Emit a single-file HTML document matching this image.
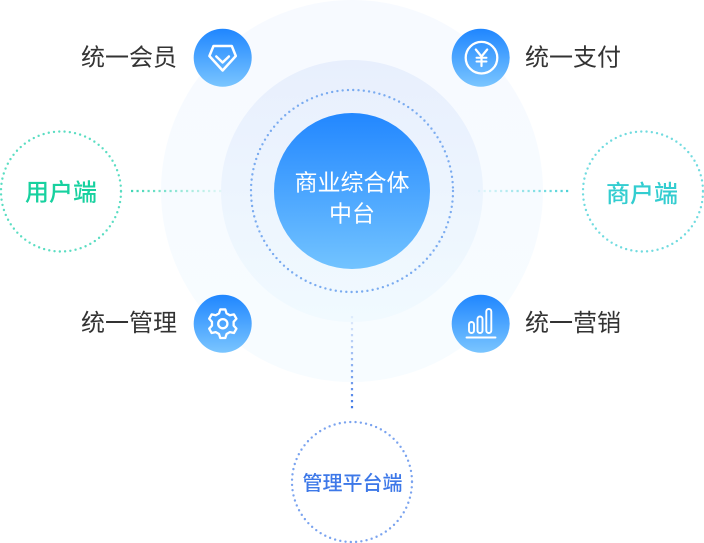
<!DOCTYPE html>
<html>
<head>
<meta charset="utf-8">
<style>
  html, body { margin: 0; padding: 0; background: #ffffff; }
  body { width: 704px; height: 543px; overflow: hidden; }
  svg { display: block; }
  text { font-family: "Liberation Sans", "Noto Sans CJK SC", "WenQuanYi Zen Hei", sans-serif; }
</style>
</head>
<body>
<svg width="704" height="543" viewBox="0 0 704 543" xmlns="http://www.w3.org/2000/svg">
  <defs>
    <linearGradient id="gOuter" x1="0" y1="0" x2="0" y2="1">
      <stop offset="0" stop-color="#f7faff"/>
      <stop offset="1" stop-color="#f7fcff"/>
    </linearGradient>
    <linearGradient id="gMid" x1="0" y1="0" x2="0" y2="1">
      <stop offset="0" stop-color="#e8effd"/>
      <stop offset="1" stop-color="#f1faff"/>
    </linearGradient>
    <linearGradient id="gMain" x1="0" y1="0" x2="0" y2="1">
      <stop offset="0" stop-color="#2287ff"/>
      <stop offset="1" stop-color="#72c3ff"/>
    </linearGradient>
    <linearGradient id="gIcon" x1="0" y1="0" x2="0" y2="1">
      <stop offset="0" stop-color="#1f86ff"/>
      <stop offset="1" stop-color="#7ac5ff"/>
    </linearGradient>
    <linearGradient id="gLeft" gradientUnits="userSpaceOnUse" x1="130" y1="0" x2="224" y2="0">
      <stop offset="0" stop-color="#3fd6b4" stop-opacity="1"/>
      <stop offset="1" stop-color="#3fd6b4" stop-opacity="0.1"/>
    </linearGradient>
    <linearGradient id="gRight" gradientUnits="userSpaceOnUse" x1="572" y1="0" x2="478" y2="0">
      <stop offset="0" stop-color="#45d0d6" stop-opacity="1"/>
      <stop offset="1" stop-color="#45d0d6" stop-opacity="0.1"/>
    </linearGradient>
    <linearGradient id="gDown" gradientUnits="userSpaceOnUse" x1="0" y1="410" x2="0" y2="316">
      <stop offset="0" stop-color="#3f78e6" stop-opacity="1"/>
      <stop offset="1" stop-color="#3f78e6" stop-opacity="0.1"/>
    </linearGradient>
  </defs>

  <!-- background concentric circles -->
  <circle cx="352" cy="191" r="191" fill="url(#gOuter)"/>
  <circle cx="352" cy="191" r="131" fill="url(#gMid)"/>
  <circle cx="352" cy="191" r="101" fill="none" stroke="#7aabf0" stroke-width="2.4" stroke-dasharray="0 5.3" stroke-linecap="round"/>

  <!-- main circle -->
  <circle cx="352" cy="191" r="78" fill="url(#gMain)"/>
  <text x="352" y="190.5" font-size="23" fill="#ffffff" text-anchor="middle">商业综合体</text>
  <text x="352" y="221.5" font-size="23" fill="#ffffff" text-anchor="middle">中台</text>

  <!-- connectors -->
  <line x1="131" y1="191" x2="224" y2="191" stroke="url(#gLeft)" stroke-width="2.2" stroke-dasharray="2.2 3.3"/>
  <line x1="478" y1="191" x2="571" y2="191" stroke="url(#gRight)" stroke-width="2.2" stroke-dasharray="2.2 3.3"/>
  <line x1="352" y1="316" x2="352" y2="410" stroke="url(#gDown)" stroke-width="2.2" stroke-dasharray="2.2 3.8"/>

  <!-- end nodes -->
  <circle cx="61" cy="191.5" r="60" fill="none" stroke="#5addc2" stroke-width="2.4" stroke-dasharray="0 5.3" stroke-linecap="round"/>
  <text x="61" y="200.5" font-size="24" fill="#17d19f" text-anchor="middle" font-weight="500">用户端</text>

  <circle cx="643" cy="191.5" r="60" fill="none" stroke="#70dbdf" stroke-width="2.4" stroke-dasharray="0 5.3" stroke-linecap="round"/>
  <text x="642" y="202" font-size="24" fill="#33cdd0" text-anchor="middle" font-weight="500">商户端</text>

  <circle cx="352" cy="482" r="60" fill="none" stroke="#7aa3ef" stroke-width="2.4" stroke-dasharray="0 5.3" stroke-linecap="round"/>
  <text x="352.5" y="490" font-size="20" fill="#3d78e8" text-anchor="middle" font-weight="500">管理平台端</text>

  <!-- feature icons -->
  <!-- 统一会员 -->
  <circle cx="222.7" cy="57.7" r="29" fill="url(#gIcon)"/>
  <path d="M213.5,46 L231.8,46 L235.8,56 L222.6,70.5 L209.4,56 Z" fill="none" stroke="#ffffff" stroke-width="2.5" stroke-linejoin="round"/>
  <path d="M216.3,56.5 L222.6,62.5 L228.9,56.5" fill="none" stroke="#ffffff" stroke-width="2.5" stroke-linecap="round" stroke-linejoin="round"/>
  <text x="177" y="65.5" font-size="24" fill="#333333" text-anchor="end">统一会员</text>

  <!-- 统一支付 -->
  <circle cx="480.7" cy="57.7" r="29" fill="url(#gIcon)"/>
  <circle cx="481.5" cy="57.7" r="15.8" fill="none" stroke="#ffffff" stroke-width="2.3"/>
  <path d="M475.8,49.5 L481.5,56.5 L487.2,49.5" fill="none" stroke="#ffffff" stroke-width="2.2" stroke-linecap="round" stroke-linejoin="round"/>
  <line x1="481.5" y1="56.5" x2="481.5" y2="66" stroke="#ffffff" stroke-width="2.2" stroke-linecap="round"/>
  <line x1="476.5" y1="57.8" x2="486.5" y2="57.8" stroke="#ffffff" stroke-width="2" stroke-linecap="round"/>
  <line x1="476.5" y1="61.5" x2="486.5" y2="61.5" stroke="#ffffff" stroke-width="2" stroke-linecap="round"/>
  <text x="525" y="65.5" font-size="24" fill="#333333">统一支付</text>

  <!-- 统一管理 -->
  <circle cx="222.7" cy="323.7" r="29" fill="url(#gIcon)"/>
  <g transform="translate(222.8,323.7)">
    <polygon points="-3.76,-10.34 -2.52,-14.28 2.52,-14.28 3.76,-10.34 7.07,-8.43 11.11,-9.32 13.63,-4.96 10.83,-1.91 10.83,1.91 13.63,4.96 11.11,9.32 7.07,8.43 3.76,10.34 2.52,14.28 -2.52,14.28 -3.76,10.34 -7.07,8.43 -11.11,9.32 -13.63,4.96 -10.83,1.91 -10.83,-1.91 -13.63,-4.96 -11.11,-9.32 -7.07,-8.43" fill="none" stroke="#ffffff" stroke-width="2.3" stroke-linejoin="round"/>
    <circle cx="0" cy="0" r="4.6" fill="none" stroke="#ffffff" stroke-width="2.3"/>
  </g>
  <text x="177" y="331" font-size="24" fill="#333333" text-anchor="end">统一管理</text>

  <!-- 统一营销 -->
  <circle cx="480.7" cy="323.7" r="29" fill="url(#gIcon)"/>
  <rect x="469" y="322" width="5" height="11" rx="2.5" fill="none" stroke="#ffffff" stroke-width="1.9"/>
  <rect x="477.5" y="316.5" width="5" height="16.5" rx="2.5" fill="none" stroke="#ffffff" stroke-width="1.9"/>
  <rect x="486.3" y="309" width="5" height="24" rx="2.5" fill="none" stroke="#ffffff" stroke-width="1.9"/>
  <line x1="466.5" y1="337.5" x2="495.5" y2="337.5" stroke="#ffffff" stroke-width="1.9" stroke-linecap="round"/>
  <text x="525" y="331" font-size="24" fill="#333333">统一营销</text>
</svg>
</body>
</html>
